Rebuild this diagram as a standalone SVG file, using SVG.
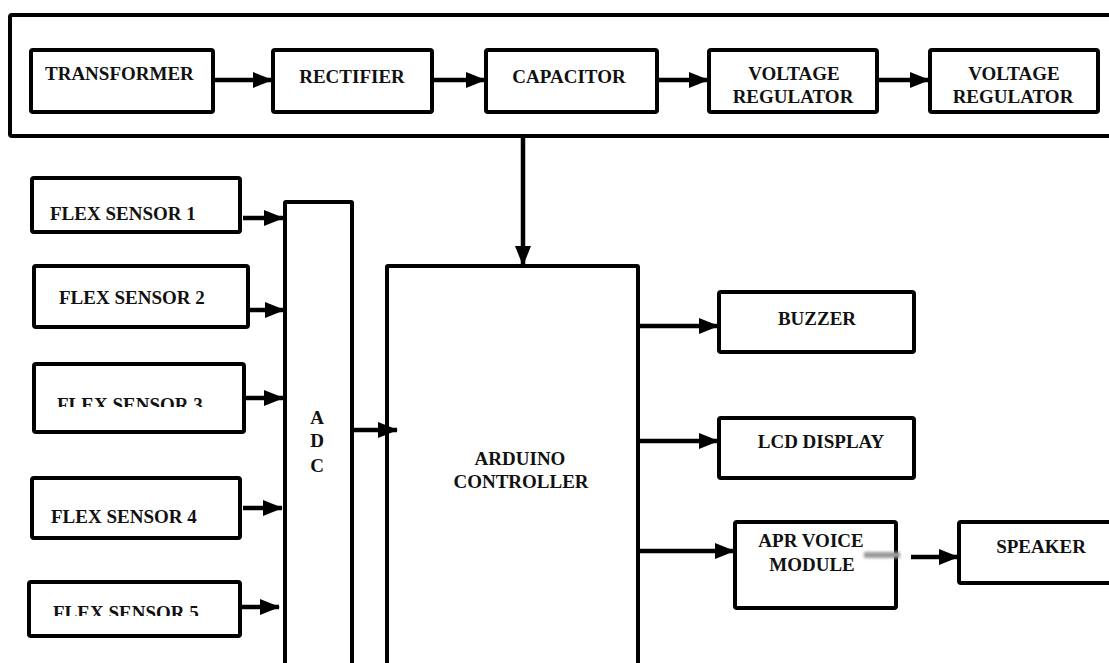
<svg xmlns="http://www.w3.org/2000/svg" width="1109" height="663" viewBox="0 0 1109 663">
<style>
.box{fill:#fff;stroke:#000;stroke-width:4}
.t{font-family:"Liberation Serif","Times New Roman",serif;font-weight:bold;font-size:19px;fill:#111}
.c{text-anchor:middle}
.ln{stroke:#000;stroke-width:4.5;fill:none;marker-end:url(#ah)}
</style>
<defs>
<marker id="ah" markerUnits="userSpaceOnUse" markerWidth="20" markerHeight="16" viewBox="0 0 20 16" refX="19" refY="8" orient="auto">
<path d="M0,0 L20,8 L0,16 z" fill="#000"/>
</marker>
<filter id="blur" x="-50%" y="-100%" width="200%" height="300%"><feGaussianBlur stdDeviation="1.8"/></filter>
<clipPath id="clip3"><rect x="0" y="380" width="300" height="27"/></clipPath>
<clipPath id="clip5"><rect x="0" y="590" width="300" height="26"/></clipPath>
</defs>

<g id="power-supply">
<rect class="box" x="10" y="15" width="1110" height="121" rx="2"/>
</g>
<g id="transformer">
<rect class="box" x="31" y="50" width="182" height="62" rx="2"/>
<text class="t" x="45" y="80">TRANSFORMER</text>
</g>
<g id="rectifier">
<rect class="box" x="273" y="50" width="159" height="62" rx="2"/>
<text class="t c" x="352" y="83">RECTIFIER</text>
</g>
<g id="capacitor">
<rect class="box" x="486" y="50" width="171" height="62" rx="2"/>
<text class="t c" x="569" y="83">CAPACITOR</text>
</g>
<g id="voltage-regulator-1">
<rect class="box" x="709" y="50" width="168" height="62" rx="2"/>
<text class="t c" x="794" y="80">VOLTAGE</text>
<text class="t c" x="793" y="103">REGULATOR</text>
</g>
<g id="voltage-regulator-2">
<rect class="box" x="930" y="50" width="168" height="62" rx="2"/>
<text class="t c" x="1014" y="80">VOLTAGE</text>
<text class="t c" x="1013" y="103">REGULATOR</text>
</g>

<g id="flex-sensor-1">
<rect class="box" x="32" y="178" width="208" height="54" rx="2"/>
<text class="t" x="50" y="220">FLEX SENSOR 1</text>
</g>
<g id="flex-sensor-2">
<rect class="box" x="34" y="266" width="214" height="61" rx="2"/>
<text class="t" x="59" y="304">FLEX SENSOR 2</text>
</g>
<g id="flex-sensor-3">
<rect class="box" x="34" y="364" width="210" height="68" rx="2"/>
<text class="t" x="57" y="411" clip-path="url(#clip3)">FLEX SENSOR 3</text>
</g>
<g id="flex-sensor-4">
<rect class="box" x="32" y="478" width="208" height="60" rx="2"/>
<text class="t" x="51" y="523">FLEX SENSOR 4</text>
</g>
<g id="flex-sensor-5">
<rect class="box" x="29" y="582" width="211" height="54" rx="2"/>
<text class="t" x="53" y="619" clip-path="url(#clip5)">FLEX SENSOR 5</text>
</g>

<g id="adc">
<rect class="box" x="285" y="202" width="67" height="480" rx="1"/>
<text class="t c" x="317" y="424">A</text>
<text class="t c" x="317" y="447">D</text>
<text class="t c" x="317" y="472">C</text>
</g>

<g id="arduino">
<rect class="box" x="387" y="266" width="251" height="420" rx="1"/>
<text class="t c" x="520" y="465">ARDUINO</text>
<text class="t c" x="521" y="488">CONTROLLER</text>
</g>

<g id="buzzer">
<rect class="box" x="719" y="292" width="195" height="60" rx="2"/>
<text class="t c" x="817" y="325">BUZZER</text>
</g>
<g id="lcd-display">
<rect class="box" x="719" y="418" width="195" height="60" rx="2"/>
<text class="t c" x="821" y="448">LCD DISPLAY</text>
</g>
<g id="apr-voice-module">
<rect class="box" x="735" y="522" width="161" height="86" rx="2"/>
<text class="t c" x="811" y="547">APR VOICE</text>
<text class="t c" x="812" y="571">MODULE</text>
</g>
<g id="speaker">
<rect class="box" x="959" y="522" width="160" height="61" rx="2"/>
<text class="t c" x="1041" y="553">SPEAKER</text>
</g>

<g id="connectors">
<line class="ln" x1="213" y1="80" x2="272" y2="80"/>
<line class="ln" x1="432" y1="80" x2="485" y2="80"/>
<line class="ln" x1="657" y1="80" x2="708" y2="80"/>
<line class="ln" x1="877" y1="80" x2="929" y2="80"/>
<line class="ln" x1="523" y1="137" x2="523" y2="265"/>
<line class="ln" x1="243" y1="218" x2="283" y2="218"/>
<line class="ln" x1="250" y1="310" x2="284" y2="310"/>
<line class="ln" x1="246" y1="398" x2="283" y2="398"/>
<line class="ln" x1="243" y1="508" x2="282" y2="508"/>
<line class="ln" x1="242" y1="607" x2="279" y2="607"/>
<line class="ln" x1="352" y1="430" x2="397" y2="430"/>
<line class="ln" x1="638" y1="326" x2="718" y2="326"/>
<line class="ln" x1="638" y1="441" x2="718" y2="441"/>
<line class="ln" x1="638" y1="551" x2="734" y2="551"/>
<rect x="864" y="552" width="36" height="6" fill="#999" filter="url(#blur)"/>
<line class="ln" x1="911" y1="557" x2="958" y2="557"/>
</g>
</svg>
